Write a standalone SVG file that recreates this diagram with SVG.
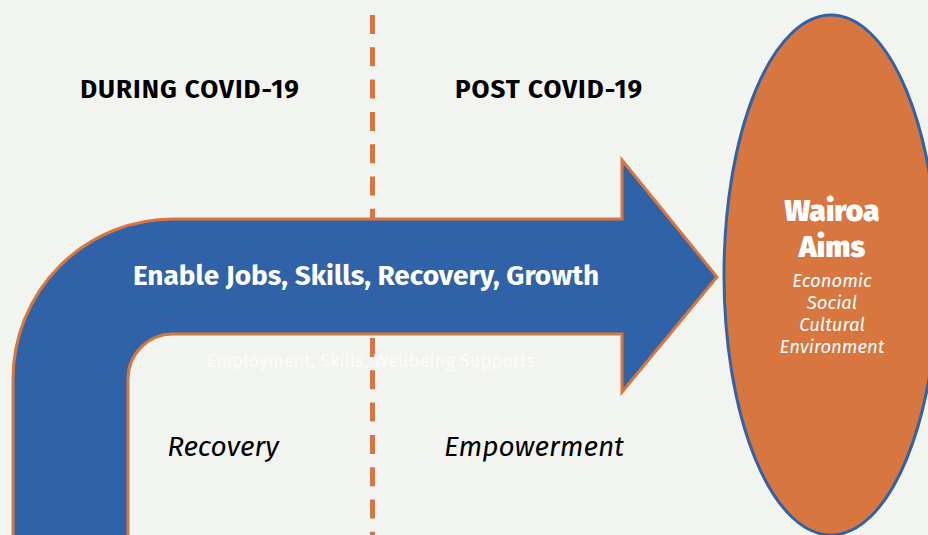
<svg xmlns="http://www.w3.org/2000/svg" width="928" height="535" viewBox="0 0 928 535">
<style>
  .hdr { font-family: "Fira Sans", Lato, "Liberation Sans", sans-serif; font-weight: bold; font-size: 26px; letter-spacing: 1px; fill: #000; text-anchor: middle; }
  .phase { font-family: "Fira Sans", Lato, "Liberation Sans", sans-serif; font-style: italic; font-size: 28px; fill: #000; text-anchor: middle; }
  .main { font-family: "Fira Sans", Lato, "Liberation Sans", sans-serif; font-weight: bold; font-size: 28px; fill: #ffffff; text-anchor: middle; }
  .sub { font-family: "Fira Sans", Lato, "Liberation Sans", sans-serif; font-size: 18.3px; fill: #ffffff; fill-opacity: 0.75; text-anchor: middle; }
  .aim { font-family: "Fira Sans", Lato, "Liberation Sans", sans-serif; font-weight: 900; font-size: 30px; fill: #ffffff; text-anchor: middle; }
  .aimsub { font-family: "Fira Sans", Lato, "Liberation Sans", sans-serif; font-style: italic; font-size: 18.5px; fill: #ffffff; text-anchor: middle; }
</style>
<rect x="0" y="0" width="928" height="535" fill="#F2F4EF"/>

<g id="divider">
  <line x1="372.5" y1="15" x2="372.5" y2="540" stroke="#D8763F" stroke-width="5" stroke-dasharray="19 13.3"/>
</g>

<g id="supports-label">
  <text class="sub" x="371" y="367">Employment, Skills, Wellbeing Supports</text>
</g>

<g id="connectors">
  <path id="pathway-arrow" d="M13,540 L13,379 A160,160 0 0 1 173,219 L622,219 L622,160 L717,277 L622,392 L622,334 L173,334 A45,45 0 0 0 128,379 L128,540 Z" fill="#3062A8" stroke="#D8763F" stroke-width="3"/>
  <text class="main" x="366" y="285">Enable Jobs, Skills, Recovery, Growth</text>
</g>

<g id="during-header">
  <text class="hdr" x="190" y="98">DURING COVID-19</text>
</g>
<g id="post-header">
  <text class="hdr" x="549" y="98">POST COVID-19</text>
</g>

<g id="recovery">
  <text class="phase" x="223" y="456">Recovery</text>
</g>
<g id="empowerment">
  <text class="phase" x="534" y="456">Empowerment</text>
</g>

<g id="wairoa-aims">
  <ellipse cx="831" cy="275" rx="107" ry="260" fill="#D8763F" stroke="#3062A8" stroke-width="3"/>
  <text class="aim" x="832" y="221">Wairoa</text>
  <text class="aim" x="832" y="257">Aims</text>
  <text class="aimsub" x="832" y="287">Economic</text>
  <text class="aimsub" x="832" y="309">Social</text>
  <text class="aimsub" x="832" y="331">Cultural</text>
  <text class="aimsub" x="832" y="353">Environment</text>
</g>
</svg>
